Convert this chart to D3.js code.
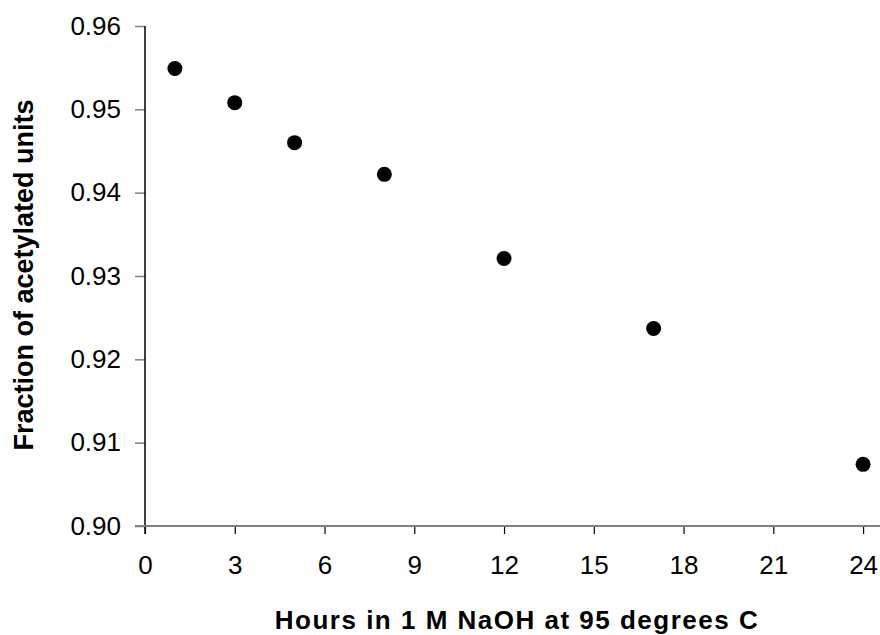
<!DOCTYPE html>
<html><head><meta charset="utf-8">
<script src="https://cdn.jsdelivr.net/npm/d3@7"></script>
<style>body{margin:0;background:#fff}svg{display:block}</style>
</head><body>
<svg id="c" width="880" height="635"></svg>
<script>
const hours = [1, 3, 5, 8, 12, 17, 24];
const fraction = [0.9549, 0.9508, 0.9460, 0.9422, 0.9321, 0.9237, 0.9074];
const xTicks = [0, 3, 6, 9, 12, 15, 18, 21, 24];
const yTicks = [0.90, 0.91, 0.92, 0.93, 0.94, 0.95, 0.96];
const xTitle = "Hours in 1 M NaOH at 95 degrees C";
const yTitle = "Fraction of acetylated units";

const svg = d3.select("#c");
const x = d3.scaleLinear().domain([0, 25]).range([145, 893]);
const y = d3.scaleLinear().domain([0.90, 0.96]).range([526, 26]);
const font = "Arial, 'Liberation Sans', sans-serif";

// Y axis
const ya = svg.append("g").attr("transform", "translate(145,0)")
  .call(d3.axisLeft(y).tickValues(yTicks).tickFormat(d3.format(".2f")).tickSize(10).tickPadding(14));
ya.select(".domain").remove();
ya.selectAll(".tick line").attr("stroke", "#808080").attr("stroke-width", 1.5);
ya.selectAll("text").attr("font-family", font).attr("font-size", 26).attr("fill", "#000");
svg.append("line").attr("x1", 145).attr("x2", 145).attr("y1", y(0.96)).attr("y2", 534)
  .attr("stroke", "#000").attr("stroke-width", 1.5);

// X axis
const xa = svg.append("g").attr("transform", "translate(0,526)")
  .call(d3.axisBottom(x).tickValues(xTicks).tickSize(8).tickPadding(22));
xa.select(".domain").remove();
xa.selectAll(".tick line").attr("stroke", "#000").attr("stroke-width", 1.2);
xa.selectAll("text").attr("font-family", font).attr("font-size", 26).attr("fill", "#000");
svg.append("line").attr("x1", 135).attr("x2", 880).attr("y1", 526).attr("y2", 526)
  .attr("stroke", "#808080").attr("stroke-width", 2);

// Points
svg.append("g").selectAll("circle").data(hours).join("circle")
  .attr("cx", d => x(d)).attr("cy", (d, i) => y(fraction[i])).attr("r", 7.5).attr("fill", "#000");

// Titles
svg.append("text").attr("x", 517).attr("y", 629).attr("text-anchor", "middle")
  .attr("font-family", font).attr("font-weight", "bold").attr("font-size", 26)
  .attr("letter-spacing", 1.5).text(xTitle);
svg.append("text").attr("transform", "translate(33,275) rotate(-90)").attr("text-anchor", "middle")
  .attr("font-family", font).attr("font-weight", "bold").attr("font-size", 27)
  .text(yTitle);
</script>
</body></html>
